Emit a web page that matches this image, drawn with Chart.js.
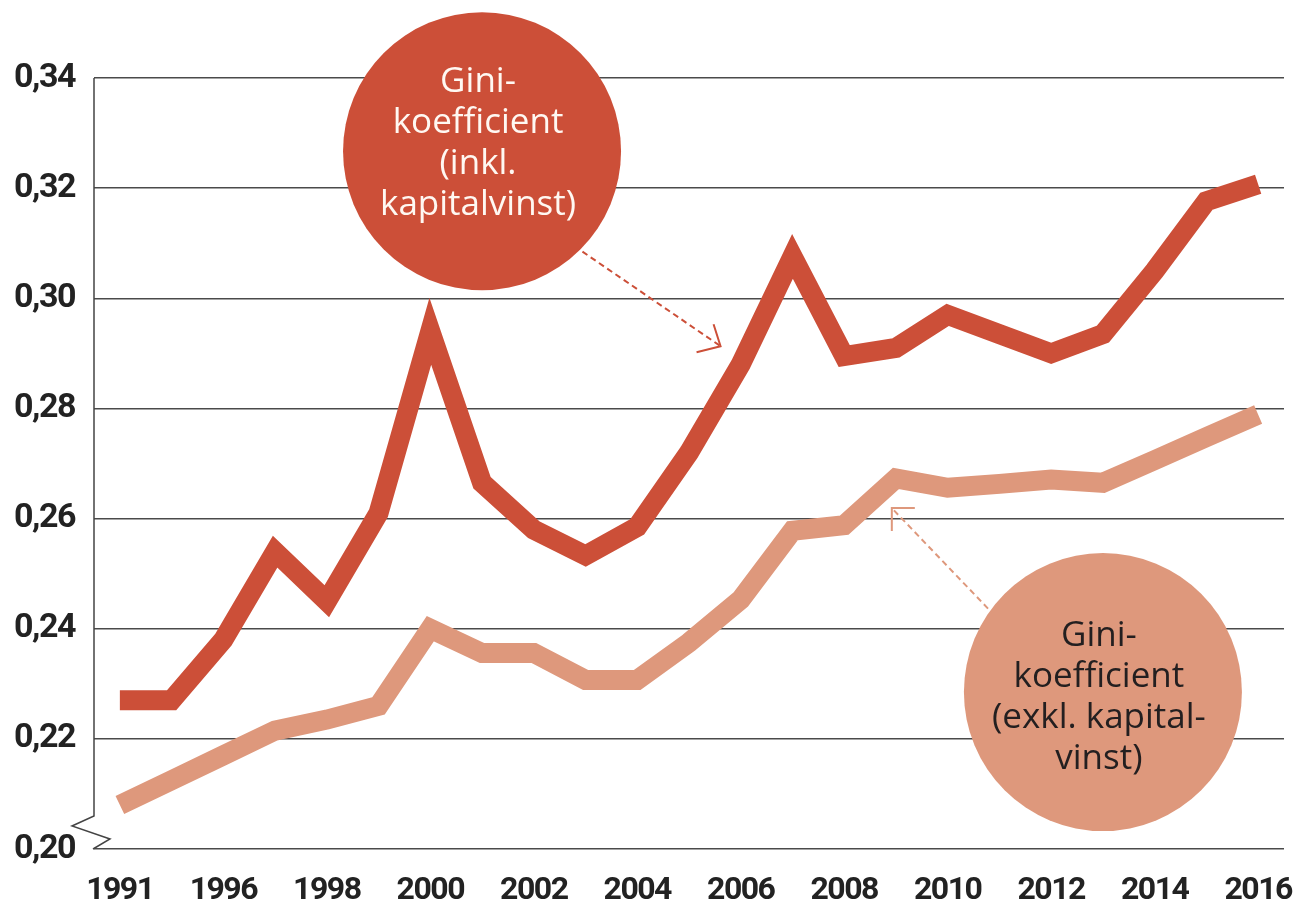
<!DOCTYPE html>
<html lang="sv">
<head>
    <meta charset="UTF-8">
    <title>Gini-koefficient</title>
    <style>
        body { margin: 0; background: #fff; }
        #wrap { width: 1293px; height: 904px; position: relative; }
    </style>
    <script src="https://cdn.jsdelivr.net/npm/chart.js"></script>
</head>
<body>
    <div id="wrap"><canvas id="giniChart"></canvas></div>

    <script>
        // år (1992-1994 saknas i källan)
        const years = ['1991', '1995', '1996', '1997', '1998', '1999', '2000', '2001', '2002', '2003', '2004',
            '2005', '2006', '2007', '2008', '2009', '2010', '2011', '2012', '2013', '2014', '2015', '2016'];

        // inkl. kapitalvinst
        const giniInkl = [0.227, 0.227, 0.238, 0.254, 0.245, 0.261, 0.294, 0.2665, 0.258, 0.2533, 0.2585,
            0.272, 0.288, 0.3076, 0.2895, 0.291, 0.297, 0.2935, 0.290, 0.2935, 0.305, 0.3176, 0.3207];

        // exkl. kapitalvinst
        const giniExkl = [0.208, 0.2125, 0.217, 0.2215, 0.2235, 0.226, 0.240, 0.2356, 0.2356, 0.2307, 0.2307,
            0.2375, 0.2453, 0.2578, 0.2588, 0.2673, 0.2656, 0.2663, 0.2671, 0.2665, 0.2706, 0.2748, 0.2789];

        const yTicks = [0.20, 0.22, 0.24, 0.26, 0.28, 0.30, 0.32, 0.34];

        const RED = '#cc4f38';
        const LIGHT = '#de987c';
        const TICK_FONT = "Roboto, 'Liberation Sans', sans-serif";
        const BUBBLE_FONT = "'Open Sans', 'Noto Sans', sans-serif";

        // bubblor + pilar, placerade i dataskalornas koordinater
        const bubbles = [
            { cx: 7.0, cy: 0.3267, r: 139, fill: RED, textColor: '#fff8f2',
              lines: ['Gini-', 'koefficient', '(inkl.', 'kapitalvinst)'], textDy: -8,
              arrowAngle: 45, tip: { x: 11.61, y: 0.2913 }, arrowColor: RED,
              arms: [[-24, 6], [-7, -22]] },
            { cx: 19.0, cy: 0.2285, r: 139, fill: LIGHT, textColor: '#231f20',
              lines: ['Gini-', 'koefficient', '(exkl. kapital-', 'vinst)'], textDy: 5,
              arrowAngle: 216, tip: { x: 14.92, y: 0.2619 }, arrowColor: LIGHT,
              arms: [[23, 0], [0, 23]] }
        ];

        // tätare siffror på axlarna (smalare typsnitt i originalet)
        const tightTicks = {
            id: 'tightTicks',
            beforeDraw(chart) { chart.ctx.letterSpacing = '-1.5px'; },
            beforeDatasetsDraw(chart) { chart.ctx.letterSpacing = '0px'; }
        };

        const overlay = {
            id: 'overlay',
            afterDatasetsDraw(chart) {
                const ctx = chart.ctx;
                const xs = chart.scales.x, ys = chart.scales.y;
                const area = chart.chartArea;

                // y-axel med brytning
                const yb = ys.getPixelForValue(0.2);
                ctx.save();
                ctx.strokeStyle = '#444';
                ctx.lineWidth = 1.5;
                ctx.beginPath();
                ctx.moveTo(area.left, area.top);
                ctx.lineTo(area.left, yb - 33);
                ctx.lineTo(area.left - 22, yb - 23);
                ctx.lineTo(area.left + 16, yb - 10);
                ctx.lineTo(area.left - 1, yb);
                ctx.stroke();
                ctx.restore();

                bubbles.forEach(b => {
                    const cx = xs.getPixelForValue(b.cx);
                    const cy = ys.getPixelForValue(b.cy);

                    ctx.save();
                    ctx.fillStyle = b.fill;
                    ctx.beginPath();
                    ctx.arc(cx, cy, b.r, 0, Math.PI * 2);
                    ctx.fill();

                    ctx.fillStyle = b.textColor;
                    ctx.font = '35px ' + BUBBLE_FONT;
                    ctx.textAlign = 'center';
                    ctx.textBaseline = 'middle';
                    const lh = 41;
                    const y0 = cy + b.textDy - lh * (b.lines.length - 1) / 2;
                    b.lines.forEach((t, i) => ctx.fillText(t, cx - 4, y0 + i * lh));

                    // streckad pil
                    const a = b.arrowAngle * Math.PI / 180;
                    const sx = cx + (b.r + 3) * Math.cos(a);
                    const sy = cy + (b.r + 3) * Math.sin(a);
                    const tx = xs.getPixelForValue(b.tip.x);
                    const ty = ys.getPixelForValue(b.tip.y);
                    ctx.strokeStyle = b.arrowColor;
                    ctx.lineWidth = 2;
                    ctx.setLineDash([6, 4]);
                    ctx.beginPath();
                    ctx.moveTo(sx, sy);
                    ctx.lineTo(tx, ty);
                    ctx.stroke();

                    ctx.setLineDash([]);
                    ctx.beginPath();
                    ctx.moveTo(tx + b.arms[0][0], ty + b.arms[0][1]);
                    ctx.lineTo(tx, ty);
                    ctx.lineTo(tx + b.arms[1][0], ty + b.arms[1][1]);
                    ctx.stroke();
                    ctx.restore();
                });
            }
        };

        const ctx = document.getElementById('giniChart').getContext('2d');
        const chart = new Chart(ctx, {
            type: 'line',
            data: {
                labels: years,
                datasets: [
                    {
                        label: 'Gini-koefficient (exkl. kapitalvinst)',
                        data: giniExkl,
                        borderColor: LIGHT,
                        borderWidth: 20,
                        pointRadius: 0,
                        tension: 0,
                        borderJoinStyle: 'miter',
                        borderCapStyle: 'butt'
                    },
                    {
                        label: 'Gini-koefficient (inkl. kapitalvinst)',
                        data: giniInkl,
                        borderColor: RED,
                        borderWidth: 20,
                        pointRadius: 0,
                        tension: 0,
                        borderJoinStyle: 'miter',
                        borderCapStyle: 'butt'
                    }
                ]
            },
            options: {
                responsive: true,
                maintainAspectRatio: false,
                animation: false,
                layout: { padding: { top: 78, right: 9, left: 0, bottom: 0 } },
                plugins: {
                    legend: { display: false },
                    tooltip: { enabled: false }
                },
                scales: {
                    x: {
                        offset: true,
                        grid: { display: false },
                        border: { display: false },
                        ticks: {
                            autoSkip: false,
                            maxRotation: 0,
                            padding: 15,
                            color: '#222',
                            font: { family: TICK_FONT, size: 32, weight: 'bold' },
                            callback: (v, i) => (i % 2 === 0 ? years[i] : '')
                        },
                        afterFit: s => { s.height = 55; s.paddingLeft = 0; s.paddingRight = 0; }
                    },
                    y: {
                        min: 0.2,
                        max: 0.34,
                        afterBuildTicks: s => { s.ticks = yTicks.map(v => ({ value: v })); },
                        grid: { color: '#4a4a4a', lineWidth: 1.5, drawTicks: false },
                        border: { display: false },
                        ticks: {
                            padding: 19,
                            color: '#222',
                            font: { family: TICK_FONT, size: 34, weight: 'bold' },
                            callback: v => v.toFixed(2).replace('.', ',')
                        },
                        afterFit: s => { s.width = 94; s.paddingTop = 0; s.paddingBottom = 0; }
                    }
                }
            },
            plugins: [tightTicks, overlay]
        });
    </script>
</body>
</html>
